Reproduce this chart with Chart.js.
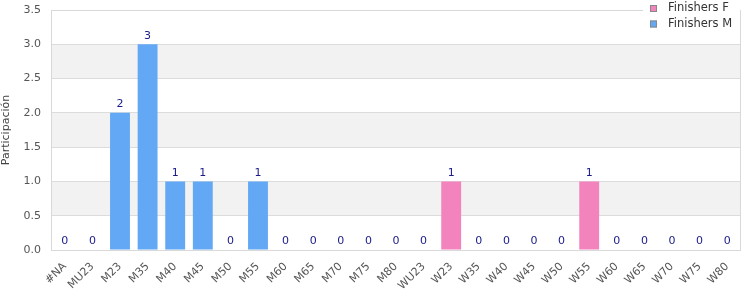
<!DOCTYPE html>
<html>
<head>
<meta charset="utf-8">
<script src="https://cdn.jsdelivr.net/npm/chart.js@4/dist/chart.umd.min.js"></script>
<style>
  html, body { margin: 0; padding: 0; background: #fff; }
  #wrap { width: 750px; height: 300px; }
</style>
</head>
<body>
<div id="wrap"><canvas id="chart" width="750" height="300"></canvas></div>
<script>
  const categories = ["#NA", "MU23", "M23", "M35", "M40", "M45", "M50", "M55", "M60", "M65",
    "M70", "M75", "M80", "WU23", "W23", "W35", "W40", "W45", "W50", "W55",
    "W60", "W65", "W70", "W75", "W80"];
  const finishersF = [0, 0, 0, 0, 0, 0, 0, 0, 0, 0, 0, 0, 0, 0, 1, 0, 0, 0, 0, 1, 0, 0, 0, 0, 0];
  const finishersM = [0, 0, 2, 3, 1, 1, 0, 1, 0, 0, 0, 0, 0, 0, 0, 0, 0, 0, 0, 0, 0, 0, 0, 0, 0];
  const seriesNames = ["Finishers F", "Finishers M"];
  const yTicks = [0, 0.5, 1, 1.5, 2, 2.5, 3, 3.5];

  const PINK = "#f283bd";
  const BLUE = "#62a8f4";
  const FONT = "DejaVu Sans";

  // alternating grey bands between gridlines
  const bandsPlugin = {
    id: "bands",
    beforeDraw(chart) {
      const { ctx, chartArea: a, scales: { y } } = chart;
      ctx.save();
      ctx.fillStyle = "#f2f2f2";
      for (let i = 1; i < yTicks.length - 1; i += 2) {
        const top = y.getPixelForValue(yTicks[i + 1]);
        const bot = y.getPixelForValue(yTicks[i]);
        ctx.fillRect(a.left, top, a.right - a.left, bot - top);
      }
      ctx.restore();
    }
  };

  // totals above each stack
  const totalsPlugin = {
    id: "totals",
    afterDatasetsDraw(chart) {
      const { ctx, scales: { x, y } } = chart;
      ctx.save();
      ctx.font = "11px '" + FONT + "'";
      ctx.fillStyle = "#1a1a8c";
      ctx.textAlign = "center";
      ctx.textBaseline = "bottom";
      categories.forEach((c, i) => {
        const total = finishersF[i] + finishersM[i];
        ctx.fillText(String(total), x.getPixelForValue(i), y.getPixelForValue(total) - 3);
      });
      ctx.restore();
    }
  };

  // plot frame, then legend box covering part of its top edge
  const legendPlugin = {
    id: "customLegend",
    afterDraw(chart) {
      const { ctx, chartArea: a } = chart;
      const colors = [PINK, BLUE];
      ctx.save();
      ctx.strokeStyle = "#d9d9d9";
      ctx.lineWidth = 1;
      ctx.strokeRect(a.left + 0.5, a.top + 0.5, a.right - a.left - 1, a.bottom - a.top);

      ctx.fillStyle = "#fff";
      ctx.fillRect(643, 0, a.right - 1 - 643, 36);
      ctx.font = "11.5px '" + FONT + "'";
      ctx.textBaseline = "middle";
      seriesNames.forEach((name, i) => {
        const yy = 8.5 + i * 15.5;
        ctx.fillStyle = colors[i];
        ctx.fillRect(650, yy - 3.5, 7, 7);
        ctx.strokeStyle = "#888";
        ctx.strokeRect(650.5, yy - 3, 6, 6);
        ctx.fillStyle = "#333";
        ctx.fillText(name, 668, yy);
      });
      ctx.restore();
    }
  };

  new Chart(document.getElementById("chart"), {
    type: "bar",
    data: {
      labels: categories,
      datasets: [
        { label: seriesNames[0], data: finishersF, backgroundColor: PINK, borderWidth: 0, categoryPercentage: 1, barPercentage: 0.72 },
        { label: seriesNames[1], data: finishersM, backgroundColor: BLUE, borderWidth: 0, categoryPercentage: 1, barPercentage: 0.72 }
      ]
    },
    options: {
      responsive: false,
      animation: false,
      layout: { padding: { top: 10, right: 9, left: 0, bottom: 0 } },
      plugins: { legend: { display: false }, tooltip: { enabled: false } },
      scales: {
        x: {
          stacked: true,
          grid: { display: false },
          border: { display: false },
          afterFit: (s) => { s.height = 50; s.paddingLeft = 0; s.paddingRight = 0; },
          ticks: {
            autoSkip: false,
            maxRotation: 45,
            minRotation: 45,
            color: "#555",
            font: { family: FONT, size: 11 },
            padding: 2
          }
        },
        y: {
          stacked: true,
          min: 0,
          max: 3.5,
          afterFit: (s) => { s.width = 51; s.paddingTop = 0; s.paddingBottom = 0; },
          grid: { color: "#dcdcdc", drawTicks: false },
          border: { display: false },
          title: { display: true, text: "Participación", color: "#444", font: { family: FONT, size: 11 }, padding: { top: 0, bottom: 8 } },
          afterBuildTicks: (s) => { s.ticks = yTicks.map((v) => ({ value: v })); },
          ticks: {
            color: "#555",
            font: { family: FONT, size: 11 },
            padding: 10,
            callback: (v) => Number(v).toFixed(1)
          }
        }
      }
    },
    plugins: [bandsPlugin, totalsPlugin, legendPlugin]
  });
</script>
</body>
</html>
